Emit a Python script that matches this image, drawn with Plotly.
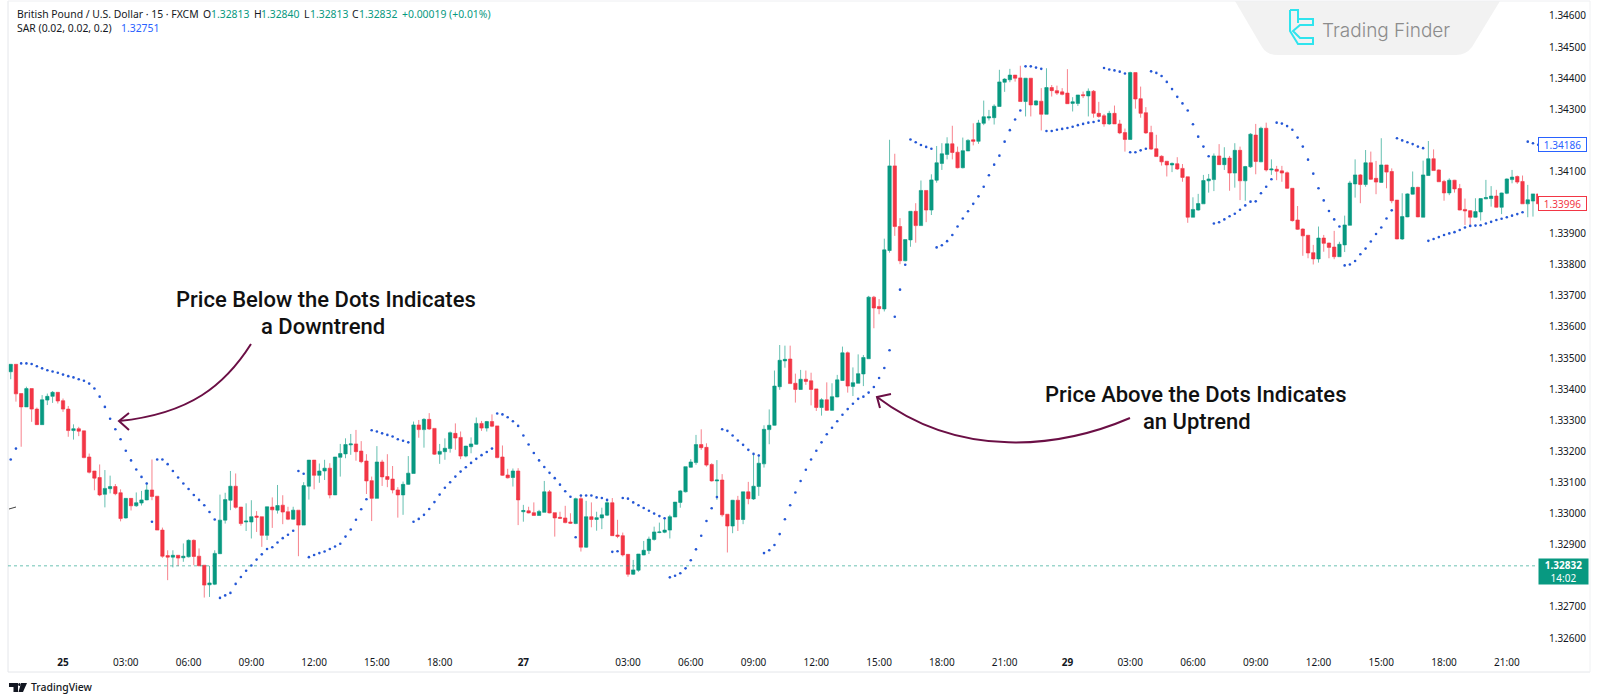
import plotly.graph_objects as go

# Values, bar by bar
opens = [
    1.33456, 1.33480, 1.33386, 1.33343, 1.33402, 1.33336, 1.33286, 1.33365, 1.33377, 1.33390,
    1.33363, 1.33336, 1.33267, 1.33273, 1.33266, 1.33182, 1.33137, 1.33116, 1.33062, 1.33080,
    1.33087, 1.33067, 1.32986, 1.33049, 1.33025, 1.33034, 1.33044, 1.33076, 1.33056, 1.32947,
    1.32865, 1.32860, 1.32866, 1.32858, 1.32861, 1.32914, 1.32863, 1.32834, 1.32771, 1.32773,
    1.32871, 1.32979, 1.33043, 1.33088, 1.33021, 1.32973, 1.32973, 1.32992, 1.32990, 1.32930,
    1.33021, 1.33011, 1.33027, 1.33006, 1.32982, 1.33011, 1.32963, 1.33088, 1.33172, 1.33123,
    1.33137, 1.33146, 1.33060, 1.33181, 1.33192, 1.33221, 1.33224, 1.33201, 1.33169, 1.33106,
    1.33049, 1.33166, 1.33119, 1.33111, 1.33076, 1.33060, 1.33094, 1.33129, 1.33285, 1.33270,
    1.33303, 1.33274, 1.33191, 1.33199, 1.33209, 1.33258, 1.33245, 1.33185, 1.33215, 1.33223,
    1.33290, 1.33275, 1.33296, 1.33282, 1.33182, 1.33124, 1.33116, 1.33137, 1.33006, 1.33009,
    1.33003, 1.32994, 1.33004, 1.33070, 1.33003, 1.32988, 1.32986, 1.32973, 1.32968, 1.33048,
    1.32892, 1.32990, 1.32981, 1.32986, 1.32995, 1.33035, 1.32931, 1.32929, 1.32869, 1.32805,
    1.32818, 1.32867, 1.32881, 1.32917, 1.32939, 1.32940, 1.32947, 1.32989, 1.33036, 1.33070,
    1.33149, 1.33164, 1.33222, 1.33213, 1.33158, 1.33105, 1.33108, 1.32998, 1.32960, 1.33043,
    1.32981, 1.33070, 1.33047, 1.33087, 1.33160, 1.33270, 1.33284, 1.33408, 1.33491, 1.33497,
    1.33419, 1.33399, 1.33432, 1.33427, 1.33401, 1.33341, 1.33366, 1.33332, 1.33375, 1.33428,
    1.33517, 1.33409, 1.33419, 1.33449, 1.33498, 1.33696, 1.33666, 1.33658, 1.33846, 1.34118,
    1.33923, 1.33813, 1.33880, 1.33972, 1.33926, 1.34039, 1.33976, 1.34072, 1.34126, 1.34155,
    1.34189, 1.34162, 1.34112, 1.34166, 1.34202, 1.34197, 1.34255, 1.34272, 1.34273, 1.34309,
    1.34387, 1.34395, 1.34410, 1.34401, 1.34325, 1.34400, 1.34314, 1.34326, 1.34284, 1.34370,
    1.34360, 1.34356, 1.34352, 1.34319, 1.34319, 1.34347, 1.34343, 1.34358, 1.34287, 1.34279,
    1.34253, 1.34287, 1.34253, 1.34225, 1.34203, 1.34418, 1.34334, 1.34289, 1.34225, 1.34173,
    1.34149, 1.34133, 1.34121, 1.34125, 1.34110, 1.34083, 1.33953, 1.33976, 1.33996, 1.34070,
    1.34074, 1.34150, 1.34122, 1.34143, 1.34095, 1.34168, 1.34070, 1.34115, 1.34217, 1.34131,
    1.34239, 1.34105, 1.34107, 1.34102, 1.34096, 1.34046, 1.33944, 1.33915, 1.33895, 1.33839,
    1.33819, 1.33886, 1.33870, 1.33857, 1.33826, 1.33864, 1.33927, 1.34060, 1.34089, 1.34058,
    1.34128, 1.34078, 1.34065, 1.34121, 1.34100, 1.34008, 1.33883, 1.33954, 1.34027, 1.34049,
    1.33953, 1.34087, 1.34141, 1.34105, 1.34068, 1.34031, 1.34072, 1.34045, 1.33978, 1.33974,
    1.33953, 1.33970, 1.34012, 1.34013, 1.34021, 1.33985, 1.34030, 1.34074, 1.34084, 1.34068,
    1.33996, 1.34005, 1.34028,
]
highs = [
    1.33480, 1.33480, 1.33386, 1.33408, 1.33402, 1.33341, 1.33381, 1.33386, 1.33394, 1.33390,
    1.33370, 1.33346, 1.33287, 1.33279, 1.33266, 1.33193, 1.33137, 1.33158, 1.33140, 1.33122,
    1.33095, 1.33078, 1.33049, 1.33049, 1.33068, 1.33073, 1.33100, 1.33174, 1.33056, 1.32955,
    1.32882, 1.32882, 1.32866, 1.32904, 1.32917, 1.32917, 1.32888, 1.32834, 1.32832, 1.32882,
    1.33061, 1.33067, 1.33137, 1.33129, 1.33021, 1.33033, 1.33043, 1.33008, 1.32990, 1.33022,
    1.33052, 1.33092, 1.33059, 1.33022, 1.33022, 1.33011, 1.33101, 1.33172, 1.33172, 1.33161,
    1.33173, 1.33162, 1.33182, 1.33224, 1.33242, 1.33256, 1.33269, 1.33233, 1.33191, 1.33119,
    1.33217, 1.33173, 1.33191, 1.33153, 1.33085, 1.33103, 1.33185, 1.33296, 1.33301, 1.33307,
    1.33323, 1.33274, 1.33224, 1.33242, 1.33264, 1.33290, 1.33264, 1.33218, 1.33245, 1.33309,
    1.33298, 1.33298, 1.33319, 1.33282, 1.33219, 1.33144, 1.33145, 1.33146, 1.33028, 1.33022,
    1.33036, 1.33012, 1.33105, 1.33076, 1.33003, 1.33006, 1.33025, 1.33001, 1.33051, 1.33060,
    1.33041, 1.33036, 1.33006, 1.33019, 1.33044, 1.33050, 1.32980, 1.32939, 1.32869, 1.32851,
    1.32870, 1.32912, 1.32926, 1.32958, 1.32971, 1.32985, 1.32996, 1.33037, 1.33076, 1.33151,
    1.33175, 1.33253, 1.33271, 1.33226, 1.33162, 1.33172, 1.33127, 1.32998, 1.33044, 1.33057,
    1.33070, 1.33102, 1.33192, 1.33191, 1.33284, 1.33335, 1.33460, 1.33542, 1.33540, 1.33540,
    1.33450, 1.33462, 1.33460, 1.33453, 1.33401, 1.33371, 1.33422, 1.33419, 1.33446, 1.33537,
    1.33521, 1.33470, 1.33512, 1.33510, 1.33700, 1.33700, 1.33690, 1.33884, 1.34202, 1.34157,
    1.33950, 1.33881, 1.33972, 1.33998, 1.34071, 1.34039, 1.34091, 1.34182, 1.34191, 1.34210,
    1.34247, 1.34180, 1.34209, 1.34204, 1.34255, 1.34266, 1.34328, 1.34298, 1.34316, 1.34427,
    1.34400, 1.34430, 1.34410, 1.34440, 1.34400, 1.34400, 1.34330, 1.34368, 1.34432, 1.34378,
    1.34376, 1.34368, 1.34429, 1.34339, 1.34346, 1.34357, 1.34367, 1.34362, 1.34324, 1.34285,
    1.34295, 1.34312, 1.34266, 1.34238, 1.34421, 1.34418, 1.34373, 1.34307, 1.34247, 1.34218,
    1.34152, 1.34133, 1.34129, 1.34146, 1.34124, 1.34083, 1.34017, 1.34028, 1.34089, 1.34092,
    1.34158, 1.34188, 1.34178, 1.34150, 1.34191, 1.34180, 1.34118, 1.34223, 1.34253, 1.34244,
    1.34257, 1.34139, 1.34118, 1.34118, 1.34100, 1.34046, 1.33989, 1.33917, 1.33895, 1.33864,
    1.33923, 1.33896, 1.33871, 1.33909, 1.33874, 1.33958, 1.34070, 1.34139, 1.34092, 1.34169,
    1.34164, 1.34134, 1.34207, 1.34121, 1.34110, 1.34008, 1.34030, 1.34030, 1.34100, 1.34051,
    1.34135, 1.34198, 1.34171, 1.34107, 1.34073, 1.34078, 1.34073, 1.34060, 1.34013, 1.33976,
    1.34014, 1.34014, 1.34073, 1.34053, 1.34041, 1.34032, 1.34078, 1.34105, 1.34087, 1.34087,
    1.34057, 1.34028, 1.34028,
]
lows = [
    1.33432, 1.33360, 1.33215, 1.33343, 1.33295, 1.33286, 1.33286, 1.33349, 1.33356, 1.33354,
    1.33327, 1.33247, 1.33238, 1.33249, 1.33178, 1.33129, 1.33075, 1.33056, 1.33020, 1.33065,
    1.33059, 1.32975, 1.32984, 1.33010, 1.33022, 1.33026, 1.33043, 1.33043, 1.32947, 1.32858,
    1.32786, 1.32827, 1.32831, 1.32845, 1.32859, 1.32834, 1.32831, 1.32730, 1.32732, 1.32770,
    1.32870, 1.32968, 1.33011, 1.33016, 1.32961, 1.32944, 1.32920, 1.32941, 1.32893, 1.32915,
    1.32954, 1.33000, 1.32966, 1.32979, 1.32981, 1.32863, 1.32963, 1.33045, 1.33078, 1.33099,
    1.33108, 1.33049, 1.33060, 1.33119, 1.33178, 1.33189, 1.33170, 1.33162, 1.33063, 1.32976,
    1.33049, 1.33089, 1.33085, 1.33065, 1.32987, 1.32996, 1.33092, 1.33129, 1.33244, 1.33212,
    1.33269, 1.33189, 1.33160, 1.33173, 1.33196, 1.33205, 1.33175, 1.33181, 1.33194, 1.33221,
    1.33266, 1.33264, 1.33278, 1.33178, 1.33121, 1.33113, 1.33087, 1.32963, 1.32974, 1.33001,
    1.32994, 1.32994, 1.33004, 1.33001, 1.32926, 1.32983, 1.32969, 1.32967, 1.32966, 1.32878,
    1.32890, 1.32956, 1.32945, 1.32950, 1.32992, 1.32928, 1.32921, 1.32862, 1.32797, 1.32803,
    1.32813, 1.32866, 1.32870, 1.32913, 1.32937, 1.32937, 1.32920, 1.32989, 1.33019, 1.33068,
    1.33148, 1.33157, 1.33205, 1.33151, 1.33103, 1.33044, 1.32990, 1.32875, 1.32937, 1.32944,
    1.32966, 1.33030, 1.33044, 1.33057, 1.33148, 1.33223, 1.33283, 1.33398, 1.33469, 1.33418,
    1.33357, 1.33398, 1.33414, 1.33348, 1.33330, 1.33315, 1.33330, 1.33330, 1.33374, 1.33427,
    1.33389, 1.33378, 1.33419, 1.33410, 1.33498, 1.33596, 1.33641, 1.33650, 1.33839, 1.33893,
    1.33802, 1.33811, 1.33858, 1.33871, 1.33925, 1.33937, 1.33960, 1.34064, 1.34105, 1.34139,
    1.34139, 1.34110, 1.34110, 1.34166, 1.34184, 1.34189, 1.34249, 1.34264, 1.34251, 1.34309,
    1.34356, 1.34387, 1.34389, 1.34325, 1.34277, 1.34277, 1.34312, 1.34232, 1.34284, 1.34341,
    1.34346, 1.34345, 1.34317, 1.34293, 1.34311, 1.34336, 1.34277, 1.34273, 1.34273, 1.34244,
    1.34250, 1.34253, 1.34220, 1.34164, 1.34203, 1.34302, 1.34273, 1.34221, 1.34169, 1.34148,
    1.34119, 1.34084, 1.34098, 1.34105, 1.34067, 1.33935, 1.33953, 1.33974, 1.33996, 1.34032,
    1.34037, 1.34121, 1.34105, 1.34038, 1.34048, 1.34008, 1.34006, 1.34112, 1.34091, 1.34130,
    1.34100, 1.34089, 1.34072, 1.34067, 1.34044, 1.33939, 1.33912, 1.33829, 1.33821, 1.33801,
    1.33807, 1.33842, 1.33821, 1.33818, 1.33826, 1.33841, 1.33927, 1.34016, 1.33998, 1.34051,
    1.34073, 1.34027, 1.34064, 1.34046, 1.33998, 1.33882, 1.33880, 1.33953, 1.34026, 1.33953,
    1.33953, 1.34086, 1.34103, 1.34067, 1.34006, 1.34024, 1.34032, 1.33975, 1.33928, 1.33928,
    1.33952, 1.33942, 1.34011, 1.33987, 1.33984, 1.33963, 1.34027, 1.34062, 1.34060, 1.33996,
    1.33953, 1.33955, 1.33996,
]
closes = [
    1.33480, 1.33385, 1.33343, 1.33402, 1.33336, 1.33286, 1.33366, 1.33377, 1.33390, 1.33362,
    1.33336, 1.33267, 1.33273, 1.33265, 1.33180, 1.33133, 1.33114, 1.33060, 1.33081, 1.33087,
    1.33064, 1.32984, 1.33049, 1.33025, 1.33035, 1.33044, 1.33076, 1.33055, 1.32947, 1.32863,
    1.32860, 1.32866, 1.32857, 1.32863, 1.32914, 1.32862, 1.32832, 1.32770, 1.32777, 1.32872,
    1.32979, 1.33045, 1.33088, 1.33020, 1.32968, 1.32976, 1.32990, 1.32988, 1.32930, 1.33022,
    1.33012, 1.33026, 1.33005, 1.32982, 1.33011, 1.32963, 1.33090, 1.33172, 1.33123, 1.33137,
    1.33146, 1.33060, 1.33182, 1.33193, 1.33222, 1.33224, 1.33199, 1.33167, 1.33105, 1.33049,
    1.33166, 1.33118, 1.33110, 1.33076, 1.33060, 1.33094, 1.33130, 1.33285, 1.33270, 1.33303,
    1.33272, 1.33191, 1.33200, 1.33210, 1.33260, 1.33243, 1.33185, 1.33217, 1.33224, 1.33290,
    1.33275, 1.33296, 1.33281, 1.33180, 1.33123, 1.33115, 1.33137, 1.33044, 1.33010, 1.33002,
    1.32994, 1.33007, 1.33070, 1.33002, 1.32986, 1.32985, 1.32971, 1.32969, 1.33048, 1.32892,
    1.32990, 1.32981, 1.32987, 1.32996, 1.33035, 1.32929, 1.32927, 1.32867, 1.32805, 1.32819,
    1.32870, 1.32882, 1.32918, 1.32941, 1.32941, 1.32947, 1.32990, 1.33037, 1.33073, 1.33151,
    1.33166, 1.33222, 1.33212, 1.33156, 1.33105, 1.33108, 1.32996, 1.32960, 1.33043, 1.32981,
    1.33070, 1.33048, 1.33088, 1.33162, 1.33271, 1.33284, 1.33410, 1.33493, 1.33496, 1.33418,
    1.33399, 1.33432, 1.33425, 1.33399, 1.33341, 1.33366, 1.33332, 1.33376, 1.33430, 1.33517,
    1.33410, 1.33421, 1.33450, 1.33502, 1.33696, 1.33661, 1.33659, 1.33848, 1.34118, 1.33923,
    1.33813, 1.33881, 1.33972, 1.33926, 1.34039, 1.33976, 1.34073, 1.34128, 1.34157, 1.34189,
    1.34161, 1.34112, 1.34167, 1.34200, 1.34197, 1.34256, 1.34276, 1.34276, 1.34310, 1.34388,
    1.34397, 1.34410, 1.34400, 1.34325, 1.34400, 1.34314, 1.34327, 1.34284, 1.34370, 1.34360,
    1.34352, 1.34348, 1.34318, 1.34324, 1.34346, 1.34344, 1.34358, 1.34287, 1.34277, 1.34253,
    1.34287, 1.34253, 1.34224, 1.34203, 1.34418, 1.34333, 1.34287, 1.34224, 1.34172, 1.34148,
    1.34131, 1.34121, 1.34126, 1.34108, 1.34081, 1.33953, 1.33978, 1.33997, 1.34071, 1.34076,
    1.34150, 1.34122, 1.34143, 1.34095, 1.34168, 1.34070, 1.34116, 1.34220, 1.34132, 1.34239,
    1.34105, 1.34108, 1.34101, 1.34095, 1.34046, 1.33942, 1.33914, 1.33893, 1.33838, 1.33819,
    1.33886, 1.33869, 1.33856, 1.33826, 1.33866, 1.33928, 1.34063, 1.34089, 1.34058, 1.34128,
    1.34075, 1.34066, 1.34121, 1.34098, 1.34006, 1.33883, 1.33955, 1.34028, 1.34049, 1.33954,
    1.34089, 1.34141, 1.34103, 1.34067, 1.34031, 1.34072, 1.34044, 1.33976, 1.33973, 1.33953,
    1.33971, 1.34013, 1.34016, 1.34021, 1.33985, 1.34031, 1.34076, 1.34082, 1.34066, 1.33996,
    1.34009, 1.34028, 1.33996,
]
sar = [
    1.33174, 1.33209, 1.33483, 1.33483, 1.33481, 1.33474, 1.33467, 1.33461, 1.33457, 1.33453,
    1.33447, 1.33442, 1.33438, 1.33432, 1.33427, 1.33418, 1.33402, 1.33376, 1.33343, 1.33305,
    1.33271, 1.33239, 1.33202, 1.33171, 1.33142, 1.33118, 1.33097, 1.32974, 1.33174, 1.33174,
    1.33159, 1.33137, 1.33116, 1.33097, 1.33079, 1.33060, 1.33044, 1.33027, 1.33005, 1.32981,
    1.32729, 1.32737, 1.32745, 1.32774, 1.32796, 1.32816, 1.32833, 1.32852, 1.32869, 1.32886,
    1.32892, 1.32907, 1.32921, 1.32932, 1.32945, 1.33137, 1.33128, 1.32860, 1.32867, 1.32873,
    1.32878, 1.32886, 1.32894, 1.32903, 1.32926, 1.32949, 1.32980, 1.33014, 1.33046, 1.33268,
    1.33264, 1.33258, 1.33253, 1.33248, 1.33239, 1.33234, 1.33229, 1.32974, 1.32983, 1.32996,
    1.33015, 1.33037, 1.33061, 1.33083, 1.33101, 1.33119, 1.33135, 1.33149, 1.33163, 1.33176,
    1.33188, 1.33198, 1.33209, 1.33322, 1.33319, 1.33310, 1.33297, 1.33282, 1.33251, 1.33222,
    1.33195, 1.33171, 1.33150, 1.33131, 1.33114, 1.33093, 1.33072, 1.33054, 1.32924, 1.33058,
    1.33058, 1.33058, 1.33052, 1.33050, 1.33044, 1.32877, 1.32879, 1.33050, 1.33048, 1.33036,
    1.33027, 1.33018, 1.33009, 1.33000, 1.32992, 1.32985, 1.32795, 1.32800, 1.32808, 1.32824,
    1.32850, 1.32885, 1.32929, 1.32976, 1.33017, 1.33053, 1.33271, 1.33266, 1.33251, 1.33235,
    1.33221, 1.33205, 1.33192, 1.33187, 1.32873, 1.32882, 1.32899, 1.32934, 1.32982, 1.33027,
    1.33068, 1.33105, 1.33141, 1.33174, 1.33202, 1.33229, 1.33255, 1.33276, 1.33297, 1.33318,
    1.33336, 1.33353, 1.33369, 1.33376, 1.33389, 1.33407, 1.33436, 1.33468, 1.33525, 1.33633,
    1.33720, 1.33800, 1.34203, 1.34194, 1.34185, 1.34179, 1.34173, 1.33856, 1.33863, 1.33876,
    1.33896, 1.33923, 1.33949, 1.33972, 1.33996, 1.34020, 1.34051, 1.34088, 1.34122, 1.34151,
    1.34196, 1.34233, 1.34267, 1.34296, 1.34438, 1.34438, 1.34434, 1.34430, 1.34230, 1.34230,
    1.34234, 1.34237, 1.34240, 1.34244, 1.34249, 1.34253, 1.34257, 1.34259, 1.34263, 1.34433,
    1.34428, 1.34425, 1.34421, 1.34415, 1.34162, 1.34162, 1.34168, 1.34173, 1.34422, 1.34417,
    1.34407, 1.34388, 1.34365, 1.34340, 1.34319, 1.34296, 1.34252, 1.34212, 1.34180, 1.34149,
    1.33933, 1.33937, 1.33946, 1.33956, 1.33964, 1.33977, 1.33991, 1.34003, 1.34004, 1.34030,
    1.34051, 1.34075, 1.34257, 1.34254, 1.34246, 1.34234, 1.34209, 1.34180, 1.34138, 1.34093,
    1.34046, 1.34007, 1.33973, 1.33946, 1.33923, 1.33798, 1.33801, 1.33812, 1.33834, 1.33852,
    1.33875, 1.33899, 1.33920, 1.33949, 1.33975, 1.34207, 1.34200, 1.34194, 1.34188, 1.34180,
    1.34175, 1.33877, 1.33883, 1.33889, 1.33896, 1.33901, 1.33905, 1.33912, 1.33920, 1.33925,
    1.33926, 1.33927, 1.33933, 1.33938, 1.33944, 1.33948, 1.33953, 1.33958, 1.33963, 1.33969,
    1.34196, 1.34191, 1.34186,
]
bars = list(range(len(closes)))

tick_bars = [10, 22, 34, 46, 58, 70, 82, 98, 118, 130, 142, 154, 166, 178, 190, 202, 214, 226, 238, 250, 262, 274, 286]
tick_labels = ["<b>25</b>", "03:00", "06:00", "09:00", "12:00", "15:00", "18:00", "<b>27</b>", "03:00", "06:00", "09:00",
               "12:00", "15:00", "18:00", "21:00", "<b>29</b>", "03:00", "06:00", "09:00", "12:00", "15:00", "18:00", "21:00"]
# 1.32800, 1.34000 and 1.34200 sit behind the price boxes
price_ticks = [1.326, 1.327, 1.329, 1.330, 1.331, 1.332, 1.333, 1.334, 1.335, 1.336, 1.337, 1.338, 1.339,
               1.341, 1.343, 1.344, 1.345, 1.346]

last_price = 1.32832
sar_label = 1.34186
last_bar_label = 1.33996

GREEN = "#089981"
RED = "#F23645"
BLUE = "#2457D6"
MAROON = "#6B0F45"
TICK_FONT = "Noto Sans"

# the plot rectangle in page pixels
LEFT, RIGHT, TOP, BOTTOM = 8, 1538, 1, 650


def px(x):
    return (x - LEFT) / (RIGHT - LEFT)


def py(y):
    return (BOTTOM - y) / (BOTTOM - TOP)


def to_path(points, close=False):
    path = "M " + " L ".join(f"{px(x):.5f},{py(y):.5f}" for x, y in points)
    return path + " Z" if close else path


def curve(x0, y0, x1, y1, x2, y2, x3, y3):
    return (f"M {px(x0):.5f},{py(y0):.5f} C {px(x1):.5f},{py(y1):.5f} "
            f"{px(x2):.5f},{py(y2):.5f} {px(x3):.5f},{py(y3):.5f}")


fig = go.Figure()
fig.add_trace(go.Candlestick(
    x=bars, open=opens, high=highs, low=lows, close=closes,
    increasing=dict(line=dict(color="rgba(8,153,129,0.62)", width=1), fillcolor=GREEN),
    decreasing=dict(line=dict(color="rgba(242,54,69,0.62)", width=1), fillcolor=RED),
    whiskerwidth=0, hoverinfo="skip", showlegend=False,
))
fig.add_trace(go.Scatter(
    x=bars, y=sar, mode="markers",
    marker=dict(color=BLUE, size=2.6), hoverinfo="skip", showlegend=False,
))

shapes = []
line_gray = dict(color="#E4E6EA", width=1)
# chart frame
shapes.append(dict(type="line", xref="paper", yref="paper", x0=px(8), x1=px(8), y0=py(1), y1=py(672), line=line_gray))
shapes.append(dict(type="line", xref="paper", yref="paper", x0=px(8), x1=px(1590), y0=py(672), y1=py(672), line=line_gray))
shapes.append(dict(type="line", xref="paper", yref="paper", x0=px(8), x1=px(1590), y0=py(1), y1=py(1), line=dict(color="#EEEFF2", width=1)))
shapes.append(dict(type="line", xref="paper", yref="paper", x0=px(1590), x1=px(1590), y0=py(1), y1=py(672), line=dict(color="#F0F1F3", width=1)))
# stray tick at the left edge
shapes.append(dict(type="line", xref="paper", yref="paper", x0=px(9), x1=px(16), y0=py(509), y1=py(507), line=dict(color="#444", width=1)))
# last price line
shapes.append(dict(type="line", xref="paper", yref="y", x0=0, x1=1, y0=last_price, y1=last_price,
                   line=dict(color="rgba(8,153,129,0.6)", width=1, dash="dot")))

# arrows
shapes.append(dict(type="path", xref="paper", yref="paper", path=curve(251, 344, 225, 385, 190, 414, 119, 421),
                   line=dict(color=MAROON, width=2)))
shapes.append(dict(type="path", xref="paper", yref="paper", path=to_path([(129, 413), (119, 421), (129, 430)]),
                   line=dict(color=MAROON, width=2)))
shapes.append(dict(type="path", xref="paper", yref="paper", path=curve(1130, 418, 1060, 448, 960, 460, 877, 397),
                   line=dict(color=MAROON, width=2)))
shapes.append(dict(type="path", xref="paper", yref="paper", path=to_path([(891, 394), (877, 397), (880, 408)]),
                   line=dict(color=MAROON, width=2)))

# Trading Finder panel and icon
panel = (f"M {px(1235)},{py(1)} L {px(1500)},{py(1)} L {px(1472)},{py(47)} Q {px(1466)},{py(55)} {px(1456)},{py(55)} "
         f"L {px(1278)},{py(55)} Q {px(1267)},{py(55)} {px(1262)},{py(47)} Z")
shapes.append(dict(type="path", xref="paper", yref="paper", path=panel, fillcolor="#F2F2F2", line=dict(width=0), layer="below"))
icon = [(1290, 10), (1298, 10), (1298, 19), (1313, 19), (1313, 25), (1300, 25), (1293, 31), (1300, 38), (1313, 38),
        (1313, 44), (1298, 44), (1290, 31), (1290, 10)]
shapes.append(dict(type="path", xref="paper", yref="paper", path=to_path(icon), line=dict(color="#2FE4EE", width=2)))
shapes.append(dict(type="line", xref="paper", yref="paper", x0=px(1298), x1=px(1298), y0=py(19), y1=py(23), line=dict(color="#2FE4EE", width=2)))

# TradingView mark
tv_bar = [(9, 683), (18, 683), (18, 692), (13.5, 692), (13.5, 687), (9, 687)]
tv_v = [(21, 683), (27, 683), (23, 692), (18.5, 692)]
shapes.append(dict(type="path", xref="paper", yref="paper", path=to_path(tv_bar, True), fillcolor="#131722", line=dict(width=0)))
shapes.append(dict(type="path", xref="paper", yref="paper", path=to_path(tv_v, True), fillcolor="#131722", line=dict(width=0)))
shapes.append(dict(type="circle", xref="paper", yref="paper", x0=px(18.2), x1=px(20.6), y0=py(683), y1=py(686),
                   fillcolor="#131722", line=dict(width=0)))


def label(x, y, text, size=10, color="#131722", anchor="left", family=TICK_FONT, weight=None):
    font = dict(family=family, size=size, color=color)
    if weight:
        font["weight"] = weight
    return dict(xref="paper", yref="paper", x=px(x), y=py(y), text=text, showarrow=False,
                xanchor=anchor, yanchor="middle", font=font, align="center", borderpad=0)


annotations = [
    label(16, 14, "British Pound / U.S. Dollar · 15 · FXCM", size=10.4),
    label(202, 14, "O", size=10.4), label(210, 14, "1.32813", size=10.4, color=GREEN),
    label(253, 14, "H", size=10.4), label(260, 14, "1.32840", size=10.4, color=GREEN),
    label(303, 14, "L", size=10.4), label(309, 14, "1.32813", size=10.4, color=GREEN),
    label(351, 14, "C", size=10.4), label(358, 14, "1.32832", size=10.4, color=GREEN),
    label(401, 14, "+0.00019 (+0.01%)", size=10.4, color=GREEN),
    label(16, 28, "SAR (0.02, 0.02, 0.2)", size=10.4),
    label(120, 28, "1.32751", size=10.4, color="#2962FF"),
    label(326, 299, "Price Below the Dots Indicates", size=22, color="#111", anchor="center", family="Roboto", weight=500),
    label(323, 326, "a Downtrend", size=22, color="#111", anchor="center", family="Roboto", weight=500),
    label(1195, 394, "Price Above the Dots Indicates", size=22, color="#111", anchor="center", family="Roboto", weight=500),
    label(1197, 421, "an Uptrend", size=22, color="#111", anchor="center", family="Roboto", weight=500),
    label(1321, 31, "Trading Finder", size=19, color="#8C8C8C", family="Inter", weight=300),
    label(30, 687, "TradingView", size=10.4, color="#131722", weight=500),
]
# boxes on the price scale
annotations.append(dict(xref="paper", yref="y", x=1, y=sar_label, text=f"{sar_label:.5f}", showarrow=False, xanchor="left",
                        width=47, height=13, bgcolor="white", bordercolor="#2962FF", borderwidth=1, borderpad=0,
                        font=dict(family=TICK_FONT, size=10, color="#2962FF")))
annotations.append(dict(xref="paper", yref="y", x=1, y=last_bar_label, text=f"{last_bar_label:.5f}", showarrow=False, xanchor="left",
                        width=47, height=13, bgcolor="white", bordercolor=RED, borderwidth=1, borderpad=0,
                        font=dict(family=TICK_FONT, size=10, color=RED)))
annotations.append(dict(xref="paper", yref="y", x=1, y=1.32814, text=f"<b>{last_price:.5f}</b><br>14:02", showarrow=False, xanchor="left",
                        width=49, height=25, bgcolor=GREEN, borderpad=0,
                        font=dict(family=TICK_FONT, size=10, color="white")))

fig.update_layout(
    width=1600, height=700,
    margin=dict(l=LEFT, r=1600 - RIGHT, t=TOP, b=700 - BOTTOM, autoexpand=False),
    paper_bgcolor="white", plot_bgcolor="white",
    shapes=shapes, annotations=annotations,
    boxgap=0.36, boxgroupgap=0,
    xaxis=dict(
        range=[-0.52, 291.96], rangeslider=dict(visible=False), showgrid=False, zeroline=False, showline=False,
        tickmode="array", tickvals=tick_bars, ticktext=tick_labels,
        ticks="outside", ticklen=3, tickcolor="rgba(0,0,0,0)",
        tickfont=dict(family=TICK_FONT, size=10, color="#131722"),
    ),
    yaxis=dict(
        range=[1.325614, 1.346482], side="right", showgrid=False, zeroline=False, showline=False,
        tickmode="array", tickvals=price_ticks, tickformat=".5f",
        ticks="outside", ticklen=8, tickcolor="rgba(0,0,0,0)",
        tickfont=dict(family=TICK_FONT, size=10, color="#131722"),
    ),
)

# the page margin would push the chart 8px off the window corner
fig.write_html("out.html", config={"displayModeBar": False}, post_script="document.body.style.margin = '0';")
